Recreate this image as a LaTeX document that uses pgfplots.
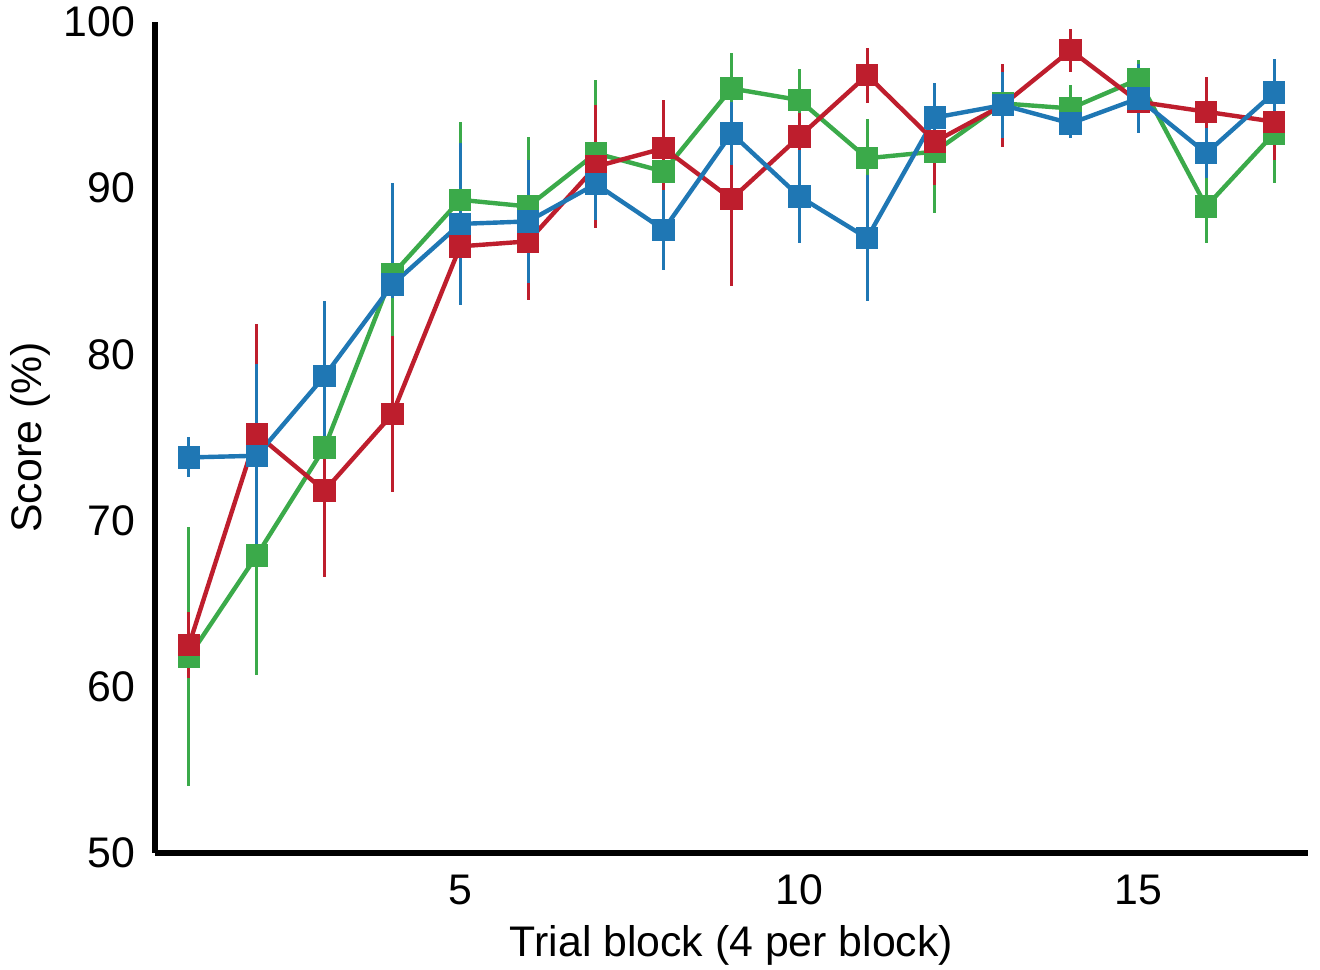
\documentclass[border=0pt]{standalone}
\usepackage{pgfplots}
\pgfplotsset{compat=1.18}
\usepackage{fontspec}
\setmainfont{Liberation Sans}

\definecolor{cblue}{HTML}{1F77B4}
\definecolor{cred}{HTML}{BE1E2D}
\definecolor{cgreen}{HTML}{3BAA4A}

\pgfplotsset{
  series/.style={
    color=#1, line width=1.1pt,
    mark=square*, mark size=2.25pt,
    mark options={solid},
    error bars/.cd, y dir=both, y explicit, error mark=none,
    error bar style={line width=0.75pt, color=#1},
  },
}

\begin{document}
\begin{tikzpicture}
\begin{axis}[
  scale only axis,
  width=288.25pt, height=207.75pt,
  xmin=0.5, xmax=17.5,
  ymin=50, ymax=100,
  xtick={5,10,15},
  ytick={50,60,70,80,90,100},
  axis x line*=bottom,
  axis y line*=left,
  axis line style={line width=1.3pt, black},
  major tick length=0pt,
  clip=false,
  /pgf/number format/assume math mode=true,
  tick label style={font=\fontsize{10.7}{12.8}\selectfont},
  label style={font=\fontsize{10.7}{12.8}\selectfont},
  xticklabel style={yshift=-2pt},
  yticklabel style={xshift=-1.5pt},
  xlabel={Trial block (4 per block)},
  ylabel={Score (\%)},
  xlabel style={at={(axis description cs:0.5,-0.111)}, anchor=center},
  ylabel style={at={(axis description cs:-0.108,0.5)}, anchor=center, rotate=0},
]
\addplot[series=cgreen] coordinates {
  (1,61.8) +- (0,7.8)
  (2,67.9) +- (0,7.2)
  (3,74.4) +- (0,6.8)
  (4,84.8) +- (0,5.0)
  (5,89.3) +- (0,4.7)
  (6,88.9) +- (0,4.2)
  (7,92.1) +- (0,4.4)
  (8,91.0) +- (0,3.2)
  (9,96.0) +- (0,2.15)
  (10,95.3) +- (0,1.85)
  (11,91.8) +- (0,2.35)
  (12,92.2) +- (0,3.7)
  (13,95.1) +- (0,1.8)
  (14,94.8) +- (0,1.4)
  (15,96.55) +- (0,1.15)
  (16,88.9) +- (0,2.2)
  (17,93.3) +- (0,3.0)
};
\addplot[series=cred] coordinates {
  (1,62.5) +- (0,2.0)
  (2,75.2) +- (0,6.6)
  (3,71.8) +- (0,5.2)
  (4,76.4) +- (0,4.7)
  (5,86.5) +- (0,3.5)
  (6,86.8) +- (0,3.5)
  (7,91.3) +- (0,3.7)
  (8,92.4) +- (0,2.9)
  (9,89.35) +- (0,5.25)
  (10,93.1) +- (0,1.4)
  (11,96.8) +- (0,1.65)
  (12,92.8) +- (0,2.6)
  (13,95.0) +- (0,2.5)
  (14,98.3) +- (0,1.3)
  (15,95.2) +- (0,1.9)
  (16,94.6) +- (0,2.1)
  (17,94.0) +- (0,2.3)
};
\addplot[series=cblue] coordinates {
  (1,73.8) +- (0,1.2)
  (2,73.9) +- (0,5.5)
  (3,78.7) +- (0,4.5)
  (4,84.2) += (0,6.1) -= (0,0.8)
  (5,87.85) +- (0,4.85)
  (6,88.0) +- (0,3.7)
  (7,90.25) +- (0,2.15)
  (8,87.5) +- (0,2.4)
  (9,93.3) +- (0,1.9)
  (10,89.5) +- (0,2.8)
  (11,87.0) +- (0,3.8)
  (12,94.25) +- (0,2.05)
  (13,95.0) +- (0,2.0)
  (14,93.9) +- (0,0.9)
  (15,95.4) +- (0,2.1)
  (16,92.1) +- (0,1.5)
  (17,95.75) +- (0,2.0)
};
\end{axis}
\pgfresetboundingbox
\useasboundingbox (-38.75pt,-29.25pt) rectangle (291.25pt,213.25pt);
\end{tikzpicture}
\end{document}
